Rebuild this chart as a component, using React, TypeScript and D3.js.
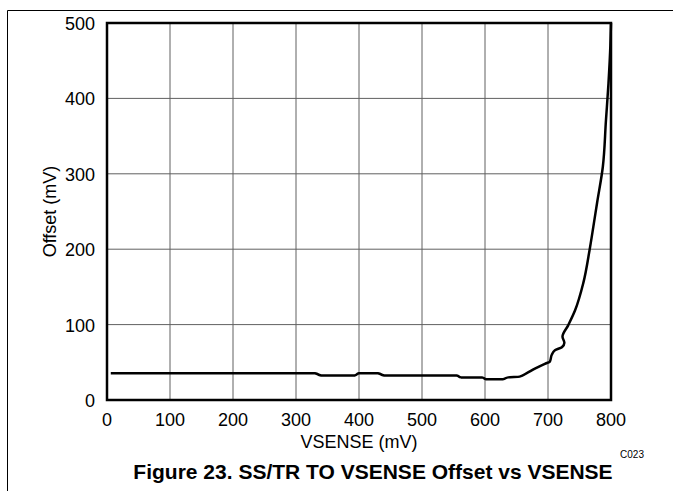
import * as d3 from 'd3';

// VSENSE (mV) vs SS/TR offset (mV)
const vsense = [6, 330, 340, 393, 400, 430, 440, 555, 562, 595, 602, 628, 637, 655, 665, 680, 695, 703, 706, 711, 722, 726, 723, 732, 743, 756, 766, 772, 778, 787, 792, 796, 799, 800];
const offset = [35.5, 35.5, 32.5, 32.5, 35.5, 35.5, 32.5, 32.5, 30, 30, 27.5, 27.5, 30, 31, 35, 42, 48, 51, 60, 66, 70, 76, 84, 99, 119, 155, 199, 230, 262, 309, 371, 420, 470, 500];
const xTicks = [0, 100, 200, 300, 400, 500, 600, 700, 800];
const yTicks = [0, 100, 200, 300, 400, 500];

const W = 673;
const H = 491;
const margin = { left: 107, right: 62, top: 23, bottom: 91 };
const font = 'Liberation Sans, Arial, Helvetica, sans-serif';

export default function App() {
  const x = d3.scaleLinear().domain([0, 800]).range([margin.left, W - margin.right]);
  const y = d3.scaleLinear().domain([0, 500]).range([H - margin.bottom, margin.top]);

  const pts: [number, number][] = vsense.map((v, i) => [v, offset[i]]);
  const line = d3
    .line<[number, number]>()
    .x((d) => x(d[0]))
    .y((d) => y(d[1]))
    .curve(d3.curveMonotoneY);

  const [x0, x1] = x.range();
  const [y0, y1] = y.range();

  return (
    <svg width={W} height={H} style={{ position: 'absolute', left: 0, top: 0, background: '#fff' }}>
      {/* page frame */}
      <line x1={7.5} x2={W} y1={10.5} y2={10.5} stroke="#000" strokeWidth={1} />
      <line x1={7.5} x2={7.5} y1={10.5} y2={H} stroke="#000" strokeWidth={1} />

      {/* grid */}
      {xTicks.slice(1, -1).map((t) => (
        <line key={'gx' + t} x1={x(t)} x2={x(t)} y1={y1} y2={y0} stroke="#606060" strokeWidth={1} />
      ))}
      {yTicks.slice(1, -1).map((t) => (
        <line key={'gy' + t} x1={x0} x2={x1} y1={y(t)} y2={y(t)} stroke="#606060" strokeWidth={1} />
      ))}

      {/* data */}
      <path d={line(pts) ?? ''} fill="none" stroke="#000" strokeWidth={2.5} strokeLinejoin="round" />

      {/* plot frame */}
      <rect x={x0} y={y1} width={x1 - x0} height={y0 - y1} fill="none" stroke="#000" strokeWidth={2.5} />

      {/* tick labels */}
      {xTicks.map((t) => (
        <text key={'tx' + t} x={x(t)} y={y0 + 26} textAnchor="middle" fontFamily={font} fontSize={18} fill="#000">
          {t}
        </text>
      ))}
      {yTicks.map((t) => (
        <text key={'ty' + t} x={x0 - 12} y={y(t) + 7} textAnchor="end" fontFamily={font} fontSize={18} fill="#000">
          {t}
        </text>
      ))}

      {/* axis titles */}
      <text x={(x0 + x1) / 2} y={y0 + 48} textAnchor="middle" fontFamily={font} fontSize={18} fill="#000">
        VSENSE (mV)
      </text>
      <text
        transform={`translate(56,${(y0 + y1) / 2}) rotate(-90)`}
        textAnchor="middle"
        fontFamily={font}
        fontSize={18}
        fill="#000"
      >
        Offset (mV)
      </text>

      <text x={632} y={458} textAnchor="middle" fontFamily={font} fontSize={10} fill="#000">
        C023
      </text>
      <text x={373} y={479} textAnchor="middle" fontFamily={font} fontSize={21} fontWeight="bold" fill="#000">
        Figure 23. SS/TR TO VSENSE Offset vs VSENSE
      </text>
    </svg>
  );
}
